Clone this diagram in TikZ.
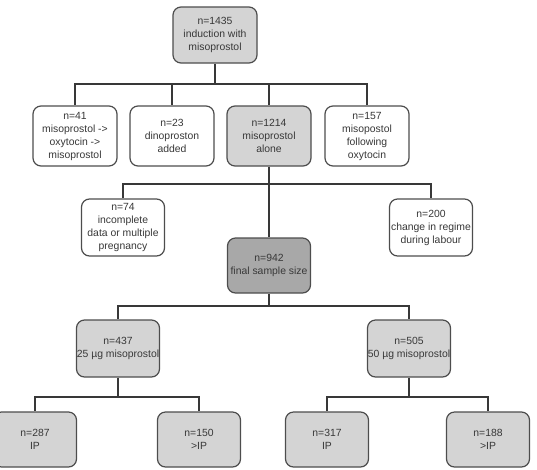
\documentclass[tikz,border=0pt]{standalone}
\usepackage{fontspec}
\setmainfont{Liberation Sans}
\definecolor{boxline}{HTML}{4D4D4D}
\definecolor{textgrey}{HTML}{383838}
\definecolor{lightfill}{HTML}{D4D4D4}
\definecolor{darkfill}{HTML}{A8A8A8}

\begin{document}
\begin{tikzpicture}[x=1pt,y=-1pt,
  box/.style={draw=boxline, line width=1.2pt, rounded corners=8pt, minimum width=84pt,
    minimum height=56pt, inner sep=0pt, align=center, text=textgrey,
    font=\fontsize{10.4}{13}\selectfont},
  plainbox/.style={box, fill=white},
  greybox/.style={box, fill=lightfill},
  darkbox/.style={box, fill=darkfill},
  link/.style={draw=textgrey, line width=1.8pt}]
\useasboundingbox (0,0) rectangle (537,469);
% first level
\node[greybox](top) at (215,35){n=1435\\induction with\\misoprostol};
\node[plainbox, minimum height=60pt](mpm) at (75,136){n=41\\misoprostol ->\\oxytocin ->\\misoprostol};
\node[plainbox, minimum height=60pt](dino) at (172,136){n=23\\dinoproston\\added};
\node[greybox, minimum height=60pt](alone) at (269,136){n=1214\\misoprostol\\alone};
\node[plainbox, minimum height=60pt](oxy) at (367,136){n=157\\misopostol\\following\\oxytocin};
% exclusions
\node[plainbox, minimum width=83pt, minimum height=57pt](incomp) at (123,227.5){n=74\\incomplete\\data or multiple\\pregnancy};
\node[plainbox, minimum width=83pt, minimum height=57pt](change) at (431,227.5){n=200\\change in regime\\during labour};
\node[darkbox, minimum width=83pt, minimum height=55pt](final) at (269,265.5){n=942\\final sample size};
% dose groups
\node[greybox, minimum width=83pt, minimum height=57pt](low) at (118,348.5){n=437\\25 µg misoprostol};
\node[greybox, minimum width=83pt, minimum height=57pt](high) at (409,348.5){n=505\\50 µg misoprostol};
\node[greybox, minimum width=83pt, minimum height=55pt](lowIP) at (35,439.5){n=287\\IP};
\node[greybox, minimum width=83pt, minimum height=55pt](lowGT) at (199,439.5){n=150\\>IP};
\node[greybox, minimum width=83pt, minimum height=55pt](highIP) at (327,439.5){n=317\\IP};
\node[greybox, minimum width=83pt, minimum height=55pt](highGT) at (488,439.5){n=188\\>IP};
% junctions
\coordinate (J1) at (215,84);
\coordinate (J2) at (269,184);
\coordinate (J3) at (269,306);
\coordinate (J4) at (118,397);
\coordinate (J5) at (409,397);
\draw[link] (top) -- (J1);
\draw[link] (J1) -| (mpm);
\draw[link] (J1) -| (dino);
\draw[link] (J1) -| (alone);
\draw[link] (J1) -| (oxy);
\draw[link] (alone) -- (final);
\draw[link] (J2) -| (incomp);
\draw[link] (J2) -| (change);
\draw[link] (final) -- (J3);
\draw[link] (J3) -| (low);
\draw[link] (J3) -| (high);
\draw[link] (low) -- (J4);
\draw[link] (J4) -| (lowIP);
\draw[link] (J4) -| (lowGT);
\draw[link] (high) -- (J5);
\draw[link] (J5) -| (highIP);
\draw[link] (J5) -| (highGT);
\end{tikzpicture}
\end{document}
